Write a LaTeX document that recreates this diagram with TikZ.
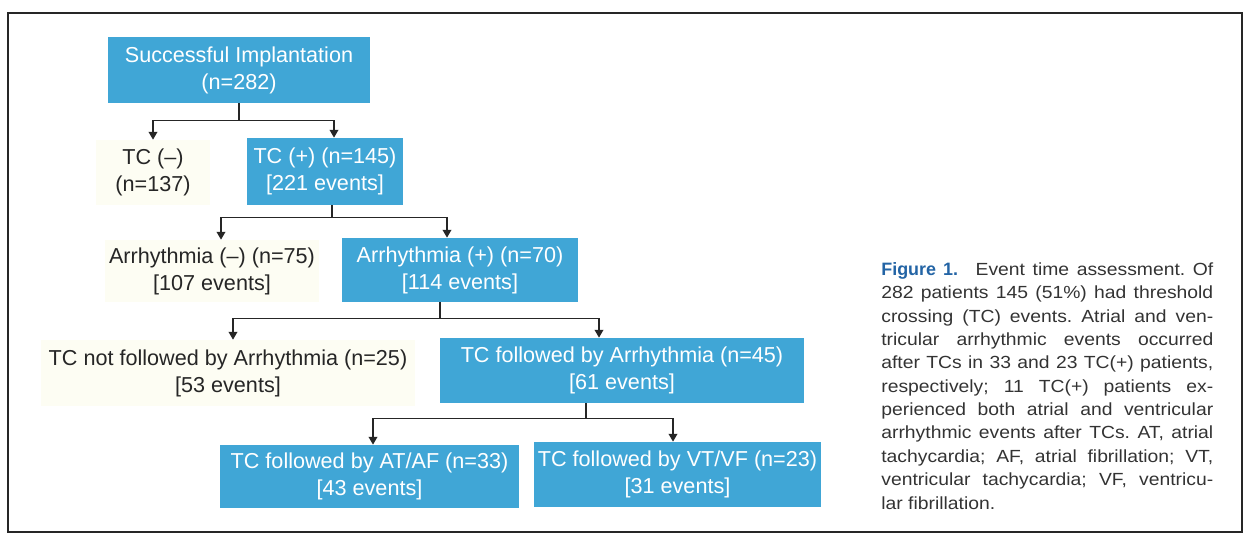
\documentclass[tikz,border=0pt]{standalone}
\usepackage{fontspec}
\setmainfont{Liberation Sans}
\newfontfamily\capfont[FakeStretch=1.1]{Liberation Sans}
\usepackage{tikz}
\usetikzlibrary{arrows.meta, positioning, calc}
\definecolor{flowblue}{RGB}{64,166,214}
\definecolor{scanpale}{RGB}{253,253,243}
\definecolor{figblue}{RGB}{35,100,165}
\frenchspacing

\begin{document}
\begin{tikzpicture}[x=0.02cm, y=-0.02cm,
      blk/.style={rectangle, fill=flowblue, text=white, align=center, inner sep=2pt,
                  font=\fontsize{12.3}{15.4}\selectfont},
      pale/.style={rectangle, fill=scanpale, text=black!85, align=center, inner sep=2pt,
                   font=\fontsize{12.3}{15.4}\selectfont},
      arr/.style={-{Triangle[length=4.5pt, width=5pt]}, line width=0.8pt, black!85},
      frame/.style={draw=black!85, line width=1.1pt},
      caption/.style={anchor=north west, inner sep=0pt, text width=6.64cm, align=justify,
                      text=black!80, font=\capfont\fontsize{10}{13.3}\selectfont},
      ]
    \useasboundingbox (0,0) rectangle (1245,535);
    \draw[frame] (8,13) rectangle (1242,532);

    % flow chart
    \node[blk, minimum width=5.24cm, minimum height=1.32cm] (root) at (239,70) {Successful Implantation\\(n=282)};
    \node[pale, minimum width=2.3cm, minimum height=1.3cm] (tcneg) at (153,172.5) {TC (--)\\(n=137)};
    \node[blk, minimum width=3.12cm, minimum height=1.34cm] (tcpos) at (325,171.5) {TC (+) (n=145)\\{[}221 events{]}};
    \node[pale, minimum width=4.3cm, minimum height=1.24cm] (arrneg) at (212,271) {Arrhythmia (--) (n=75)\\{[}107 events{]}};
    \node[blk, minimum width=4.72cm, minimum height=1.28cm] (arrpos) at (460,270) {Arrhythmia (+) (n=70)\\{[}114 events{]}};
    \node[pale, minimum width=7.5cm, minimum height=1.32cm] (notfol) at (228,373) {TC not followed by Arrhythmia (n=25)\\{[}53 events{]}};
    \node[blk, minimum width=7.28cm, minimum height=1.3cm] (fol) at (622,370.5) {TC followed by Arrhythmia (n=45)\\{[}61 events{]}};
    \node[blk, minimum width=5.98cm, minimum height=1.26cm] (ataf) at (369.5,476.5) {TC followed by AT/AF (n=33)\\{[}43 events{]}};
    \node[blk, minimum width=5.74cm, minimum height=1.3cm] (vtvf) at (677.5,474.5) {TC followed by VT/VF (n=23)\\{[}31 events{]}};

    \draw[arr] (root.south) -- ++(0,17) -| (tcneg.north);
    \draw[arr] (root.south) -- ++(0,17) -| ($(tcpos.north)+(9,0)$);
    \draw[arr] ($(tcpos.south)+(7,0)$) -- ++(0,12) -| ($(arrneg.north)+(9,0)$);
    \draw[arr] ($(tcpos.south)+(7,0)$) -- ++(0,12) -| ($(arrpos.north)+(-13,0)$);
    \draw[arr] ($(arrpos.south)+(-20,0)$) -- ++(0,16) -| ($(notfol.north)+(5,0)$);
    \draw[arr] ($(arrpos.south)+(-20,0)$) -- ++(0,16) -| ($(fol.north)+(-23,0)$);
    \draw[arr] ($(fol.south)+(-36,0)$) -- ++(0,15) -| ($(ataf.north)+(3.5,0)$);
    \draw[arr] ($(fol.south)+(-36,0)$) -- ++(0,15) -| ($(vtvf.north)+(-4.5,0)$);

    % caption
    \node[caption] (cap) at (881,262) {\hyphenpenalty=10000\exhyphenpenalty=10000
      {\setmainfont{Liberation Sans}\fontsize{10.2}{13.3}\selectfont\bfseries\color{figblue}Figure 1.}\quad
      Event time assessment. Of\linebreak
      282 patients 145 (51\%) had threshold\linebreak
      crossing (TC) events. Atrial and ven-\linebreak
      tricular arrhythmic events occurred\linebreak
      after TCs in 33 and 23 TC(+) patients,\linebreak
      respectively; 11 TC(+) patients ex-\linebreak
      perienced both atrial and ventricular\linebreak
      arrhythmic events after TCs. AT, atrial\linebreak
      tachycardia; AF, atrial fibrillation; VT,\linebreak
      ventricular tachycardia; VF, ventricu-\linebreak
      lar fibrillation.};
  \end{tikzpicture}
\end{document}
